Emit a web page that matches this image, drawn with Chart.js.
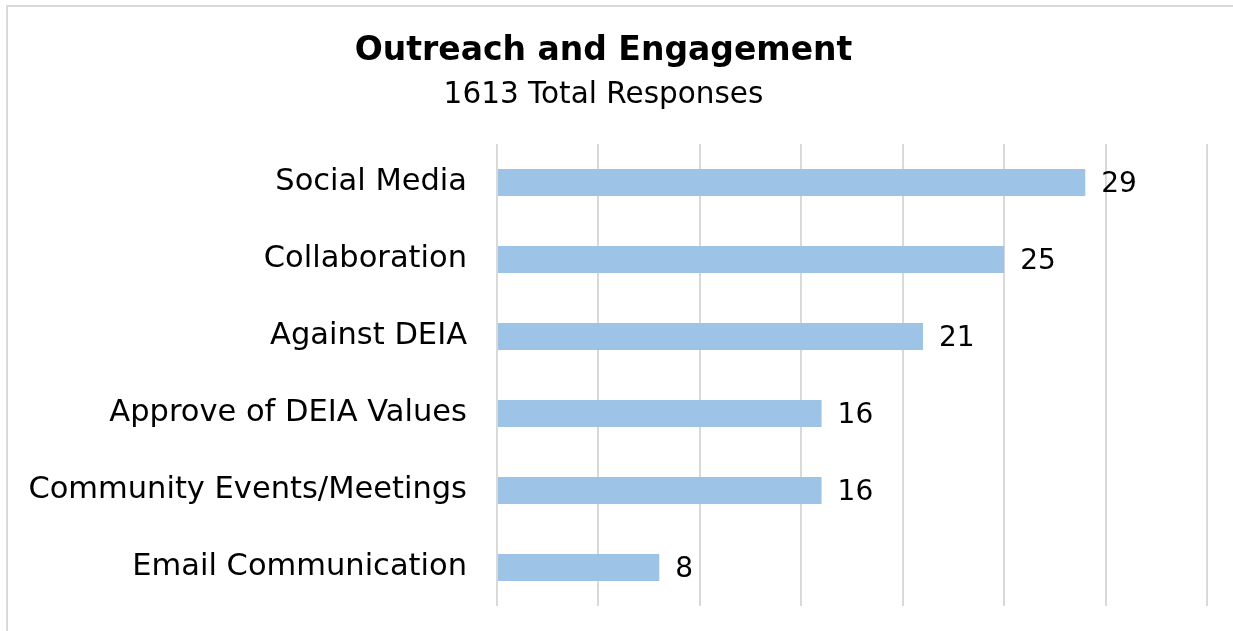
<!DOCTYPE html>
<html>
<head>
<meta charset="utf-8">
<script src="https://cdn.jsdelivr.net/npm/chart.js@4/dist/chart.umd.min.js"></script>
<style>
  html, body { margin: 0; padding: 0; background: #fff; overflow: hidden; }
  #frame { position: absolute; left: 6px; top: 5px; width: 1240px; height: 640px;
           border: 2px solid #d9d9d9; box-sizing: border-box; }
  #wrap { position: absolute; left: 0; top: 0; width: 1233px; height: 631px; }
</style>
</head>
<body>
<div id="frame"></div>
<div id="wrap"><canvas id="chart" width="1233" height="631"></canvas></div>
<script>
const categories = ["Social Media", "Collaboration", "Against DEIA", "Approve of DEIA Values", "Community Events/Meetings", "Email Communication"];
const responses = [29, 25, 21, 16, 16, 8];
const titleText = "Outreach and Engagement";
const subtitleText = "1613 Total Responses";

const FONT = "'DejaVu Sans', sans-serif";

// Writes each bar's value just past its end
const valueLabels = {
  id: "valueLabels",
  afterDatasetsDraw(chart) {
    const ctx = chart.ctx;
    const meta = chart.getDatasetMeta(0);
    ctx.save();
    ctx.font = "28px " + FONT;
    ctx.fillStyle = "#000";
    ctx.textAlign = "left";
    ctx.textBaseline = "middle";
    meta.data.forEach((bar, i) => {
      ctx.fillText(String(chart.data.datasets[0].data[i]), bar.x + 16, bar.y + 2);
    });
    ctx.restore();
  }
};

new Chart(document.getElementById("chart"), {
  type: "bar",
  data: {
    labels: categories,
    datasets: [{
      data: responses,
      backgroundColor: "#9dc3e6",
      borderWidth: 0,
      barPercentage: 0.7,
      categoryPercentage: 0.5
    }]
  },
  options: {
    indexAxis: "y",
    responsive: false,
    animation: false,
    layout: { padding: { top: 0, right: 26, bottom: 25, left: 0 } },
    plugins: {
      legend: { display: false },
      tooltip: { enabled: false },
      title: {
        display: true, text: titleText, color: "#000",
        font: { family: FONT, size: 33, weight: "bold", lineHeight: 1.2 },
        padding: { top: 32, bottom: 6 }
      },
      subtitle: {
        display: true, text: subtitleText, color: "#000",
        font: { family: FONT, size: 29.5, lineHeight: 1.2 },
        padding: { top: 0, bottom: 31 }
      }
    },
    scales: {
      x: {
        min: 0, max: 35,
        ticks: { display: false, stepSize: 5 },
        grid: { color: "#d9d9d9", lineWidth: 2, drawTicks: false },
        border: { display: false },
        afterFit(scale) { scale.height = 0; }
      },
      y: {
        ticks: { color: "#000", padding: 30, font: { family: FONT, size: 30.5 } },
        grid: { display: false, drawTicks: false },
        border: { display: false },
        afterFit(scale) {
          scale.width = 497;
          scale.paddingTop = 0;
          scale.paddingBottom = 0;
        }
      }
    }
  },
  plugins: [valueLabels]
});
</script>
</body>
</html>
